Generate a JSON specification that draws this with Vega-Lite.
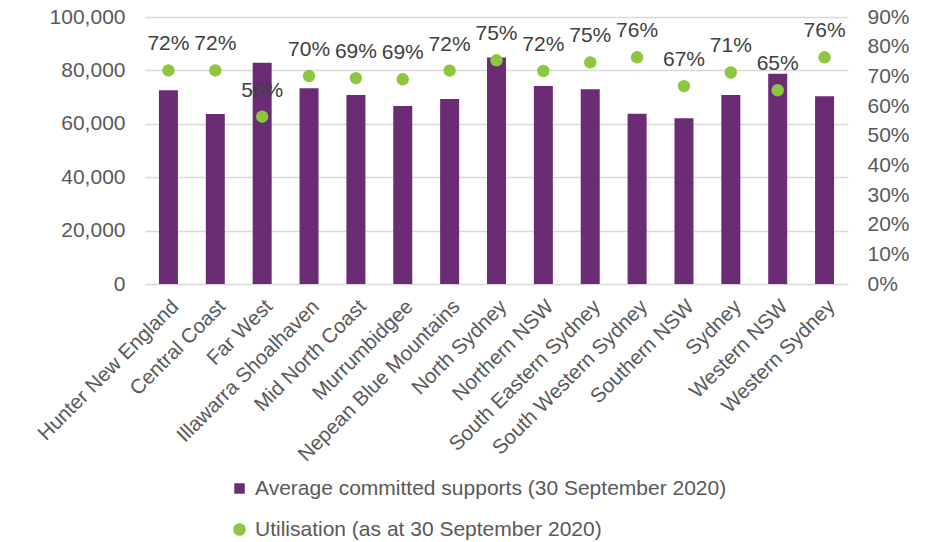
{
  "$schema": "https://vega.github.io/schema/vega-lite/v6.json",
  "width": 703,
  "height": 267,
  "autosize": {"type": "none"},
  "padding": {"left": 145, "top": 17, "right": 78, "bottom": 258},
  "background": "white",
  "config": {
    "view": {"stroke": null},
    "font": "Liberation Sans",
    "axis": {"labelFont": "Liberation Sans", "labelColor": "#595959", "labelFontSize": 21, "ticks": false, "domain": false, "title": null}
  },
  "data": {
    "values": [
      {"region": "Hunter New England", "supports": 72600, "util": 0.720},
      {"region": "Central Coast", "supports": 63700, "util": 0.720},
      {"region": "Far West", "supports": 82900, "util": 0.564},
      {"region": "Illawarra Shoalhaven", "supports": 73300, "util": 0.701},
      {"region": "Mid North Coast", "supports": 70800, "util": 0.694},
      {"region": "Murrumbidgee", "supports": 66700, "util": 0.690},
      {"region": "Nepean Blue Mountains", "supports": 69300, "util": 0.719},
      {"region": "North Sydney", "supports": 84800, "util": 0.754},
      {"region": "Northern NSW", "supports": 74200, "util": 0.718},
      {"region": "South Eastern Sydney", "supports": 72900, "util": 0.747},
      {"region": "South Western Sydney", "supports": 63800, "util": 0.764},
      {"region": "Southern NSW", "supports": 62100, "util": 0.667},
      {"region": "Sydney", "supports": 70800, "util": 0.713},
      {"region": "Western NSW", "supports": 78700, "util": 0.653},
      {"region": "Western Sydney", "supports": 70300, "util": 0.764}
    ]
  },
  "encoding": {
    "x": {
      "field": "region", "type": "nominal", "sort": null,
      "scale": {"paddingInner": 0.6, "paddingOuter": 0.3},
      "axis": {"labelAngle": -45, "labelPadding": 12, "labelLimit": 400, "labelFontSize": 20.5}
    }
  },
  "layer": [
    {
      "mark": {"type": "bar", "color": "#6B2C75", "width": 19},
      "encoding": {
        "y": {
          "field": "supports", "type": "quantitative",
          "scale": {"domain": [0, 100000], "nice": false},
          "axis": {"values": [0, 20000, 40000, 60000, 80000, 100000], "format": ",.0f", "grid": true, "gridColor": "#D9D9D9", "gridWidth": 1.5, "labelPadding": 20}
        },
        "color": {
          "datum": "Average committed supports (30 September 2020)",
          "scale": {"domain": ["Average committed supports (30 September 2020)", "Utilisation (as at 30 September 2020)"], "range": ["#6B2C75", "#8DC63F"]},
          "legend": {
            "title": null,
            "orient": "none",
            "legendX": 84,
            "legendY": 461,
            "direction": "vertical",
            "labelFont": "Liberation Sans",
            "labelFontSize": 21,
            "labelColor": "#595959",
            "labelOffset": 5,
            "rowPadding": 19,
            "symbolSize": 140,
            "symbolStrokeWidth": 0,
            "labelLimit": 700,
            "encode": {
              "symbols": {
                "update": {
                  "shape": {"signal": "datum.value === 'Utilisation (as at 30 September 2020)' ? 'circle' : 'square'"},
                  "fill": {"signal": "datum.value === 'Utilisation (as at 30 September 2020)' ? '#8DC63F' : '#6B2C75'"},
                  "size": {"signal": "datum.value === 'Utilisation (as at 30 September 2020)' ? 160 : 110"},
                  "strokeWidth": {"value": 0}
                }
              }
            }
          }
        }
      }
    },
    {
      "encoding": {
        "y": {
          "field": "util", "type": "quantitative",
          "scale": {"domain": [0, 0.9], "nice": false},
          "axis": {"orient": "right", "values": [0, 0.1, 0.2, 0.3, 0.4, 0.5, 0.6, 0.7, 0.8, 0.9], "format": ".0%", "grid": false, "labelPadding": 19}
        }
      },
      "layer": [
        {
          "mark": {"type": "point", "filled": true, "shape": "circle", "size": 155, "opacity": 1},
          "encoding": {
            "color": {"datum": "Utilisation (as at 30 September 2020)"}
          }
        },
        {
          "mark": {"type": "text", "fontSize": 21, "color": "#404040", "baseline": "alphabetic", "dy": -20, "font": "Liberation Sans"},
          "encoding": {
            "text": {"field": "util", "type": "quantitative", "format": ".0%"}
          }
        }
      ]
    }
  ],
  "resolve": {"scale": {"y": "independent"}}
}
